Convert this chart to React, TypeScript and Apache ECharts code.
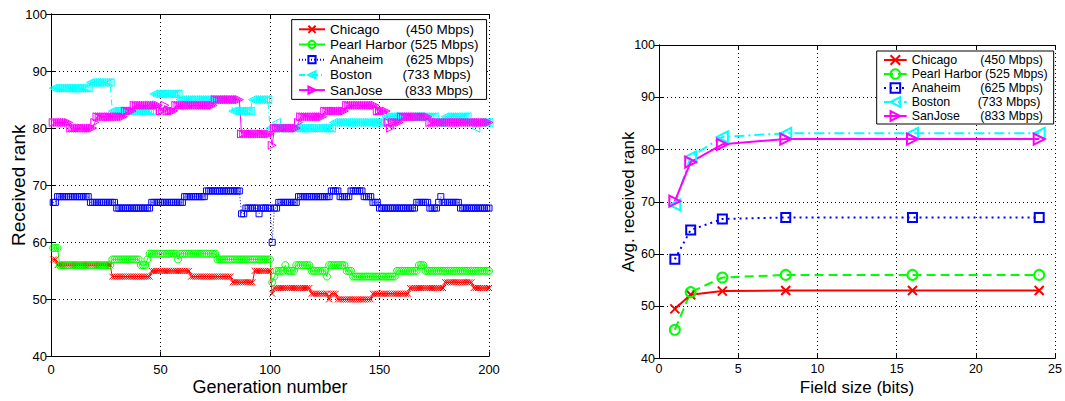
import React, { useEffect, useRef } from 'react';
import * as echarts from 'echarts';

// ---------- shared legend texts ----------
const cityNames = ['Chicago', 'Pearl Harbor', 'Anaheim', 'Boston', 'SanJose'];
const cityRates = ['(450 Mbps)', '(525 Mbps)', '(625 Mbps)', '(733 Mbps)', '(833 Mbps)'];
const cityColors = ['#ff0000', '#00ff00', '#0000ff', '#00ffff', '#ff00ff'];

// ---------- left panel: received rank per generation ----------
// runs of [rank, last generation of the run], generations 1..200
const chicagoRuns = [[57, 2], [56, 27], [54, 45], [55, 63], [54, 82], [53, 92], [55, 100], [51, 101], [52, 118], [51, 126], [50, 127], [51, 130], [50, 146], [51, 163], [52, 179], [53, 192], [52, 200]];
const pearlRuns = [[59, 3], [56, 27], [57, 40], [56, 43], [57, 44], [58, 57], [57, 58], [58, 75], [57, 100], [53, 101], [54, 102], [55, 106], [56, 107], [55, 111], [56, 118], [55, 125], [54, 126], [56, 134], [55, 137], [54, 157], [55, 167], [56, 170], [55, 200]];
const anaheimRuns = [[67, 2], [68, 17], [67, 29], [66, 45], [67, 60], [68, 70], [69, 86], [65, 88], [66, 94], [65, 95], [66, 100], [60, 101], [66, 103], [67, 112], [68, 127], [69, 131], [68, 136], [69, 142], [68, 146], [67, 149], [66, 166], [67, 172], [66, 176], [67, 177], [68, 178], [67, 186], [66, 200]];
const bostonRuns = [[87, 17], [88, 27], [83, 46], [86, 58], [85, 82], [83, 91], [85, 99], [80, 102], [81, 103], [80, 128], [81, 152], [82, 175], [81, 179], [82, 190], [81, 193], [80, 194], [81, 200]];
const sanjoseRuns = [[81, 8], [80, 19], [81, 20], [82, 33], [83, 37], [84, 49], [83, 51], [84, 52], [83, 56], [84, 74], [85, 86], [79, 100], [77, 101], [80, 112], [81, 113], [82, 124], [83, 134], [84, 148], [83, 153], [81, 154], [80, 155], [81, 159], [82, 172], [81, 200]];

// ---------- right panel: average received rank per field size ----------
const fieldSizes = [1, 2, 4, 8, 16, 24];
const chicagoAvg = [49.5, 52.2, 52.9, 53.0, 53.0, 53.0];
const pearlAvg = [45.5, 52.7, 55.5, 56.0, 56.0, 56.0];
const anaheimAvg = [59.0, 64.6, 66.7, 67.0, 67.0, 67.0];
const bostonAvg = [69.4, 78.6, 82.4, 83.1, 83.1, 83.1];
const sanjoseAvg = [70.1, 77.6, 81.0, 82.0, 82.0, 82.0];

const FONT = '"Liberation Sans", Arial, Helvetica, sans-serif';
const X_SYMBOL = 'path://M0,0L10,10M10,0L0,10';
const symbols = [X_SYMBOL, 'circle', 'rect', 'triangle', 'triangle'];
const rotations = [0, 0, 0, 90, -90];

function runsToPoints(runs: number[][]): number[][] {
  const out: number[][] = [];
  let g = 1;
  for (const [v, last] of runs) {
    for (; g <= last; g++) out.push([g, v]);
  }
  return out;
}

function frameAxes(gridIndex: number, min: number, max: number, interval: number, isX: boolean) {
  return {
    type: 'value', gridIndex, min, max, interval,
    position: isX ? 'top' : 'right',
    axisLine: { show: true, lineStyle: { color: '#000', width: 1 } },
    axisTick: { show: true, inside: true, length: 5, lineStyle: { color: '#000' } },
    axisLabel: { show: false },
    splitLine: { show: false },
  };
}

export default function App() {
  const ref = useRef<HTMLDivElement>(null);

  useEffect(() => {
    if (!ref.current) return;
    const chart = echarts.init(ref.current, null, { renderer: 'svg' });

    const leftData = [chicagoRuns, pearlRuns, anaheimRuns, bostonRuns, sanjoseRuns].map(runsToPoints);
    const rightData = [chicagoAvg, pearlAvg, anaheimAvg, bostonAvg, sanjoseAvg].map((arr) => arr.map((v, i) => [fieldSizes[i], v]));

    const leftSizes = [6, 7, 6, 8, 8];
    const leftDash: any[] = ['solid', 'solid', [1, 2], [6, 3, 1, 3], 'solid'];
    const rightSizes = [9, 10, 9, 11, 11];
    const rightDash: any[] = ['solid', [9, 5], [2, 4], [10, 4, 2, 4], 'solid'];

    const leftSeries = leftData.map((d, i) => ({
      type: 'line', name: cityNames[i], xAxisIndex: 0, yAxisIndex: 0, data: d,
      symbol: symbols[i], symbolSize: leftSizes[i], symbolRotate: rotations[i], showAllSymbol: true,
      lineStyle: { color: cityColors[i], width: 1, type: leftDash[i] },
      itemStyle: { color: 'rgba(0,0,0,0)', borderColor: cityColors[i], borderWidth: 1 },
      emphasis: { disabled: true }, silent: true,
    }));
    const rightSeries = rightData.map((d, i) => ({
      type: 'line', name: cityNames[i] + '#r', xAxisIndex: 2, yAxisIndex: 2, data: d,
      symbol: symbols[i], symbolSize: rightSizes[i], symbolRotate: rotations[i], showAllSymbol: true,
      lineStyle: { color: cityColors[i], width: 2, type: rightDash[i] },
      itemStyle: { color: 'rgba(0,0,0,0)', borderColor: cityColors[i], borderWidth: 2 },
      emphasis: { disabled: true }, silent: true,
    }));

    const leftNameWidths = [75.7, 80.3, 75.7, 72.4, 74.7];
    const rightNameWidths = [68.6, 73.3, 68.6, 66, 68.6];
    const leftRich: any = { p: { fontFamily: FONT, fontSize: 13.5, lineHeight: 15.2, color: '#000' } };
    const rightRich: any = { p: { fontFamily: FONT, fontSize: 12.4, lineHeight: 14, color: '#000' } };
    cityNames.forEach((_, i) => {
      leftRich['n' + i] = { fontFamily: FONT, fontSize: 13.5, lineHeight: 15.2, color: '#000', width: leftNameWidths[i] };
      rightRich['n' + i] = { fontFamily: FONT, fontSize: 12.4, lineHeight: 14, color: '#000', width: rightNameWidths[i] };
    });
    const fmt = (name: string) => {
      const base = name.split('#')[0];
      const i = cityNames.indexOf(base);
      return `{n${i}|${base}}{p|${cityRates[i]}}`;
    };

    const tickLabel = (size: number, margin: number) => ({ show: true, color: '#000', fontFamily: FONT, fontSize: size, margin });
    const gridLine = { show: true, lineStyle: { color: '#000', width: 1, type: [1, 3] } };
    const mainLine = { show: true, lineStyle: { color: '#000', width: 1 } };
    const mainTick = { show: true, inside: true, length: 5, lineStyle: { color: '#000' } };

    const option: any = {
      animation: false,
      backgroundColor: '#fff',
      grid: [
        { left: 51, top: 14, width: 438, height: 344, containLabel: false },
        { left: 659, top: 45, width: 399, height: 316, containLabel: false },
      ],
      xAxis: [
        {
          type: 'value', gridIndex: 0, min: 0, max: 200, interval: 50, position: 'bottom',
          name: 'Generation number', nameLocation: 'middle', nameGap: 21.5, nameMoveOverlap: false,
          nameTextStyle: { fontFamily: FONT, fontSize: 18, color: '#000' },
          axisLine: mainLine, axisTick: mainTick, axisLabel: tickLabel(13, 6), splitLine: gridLine,
        },
        frameAxes(0, 0, 200, 50, true),
        {
          type: 'value', gridIndex: 1, min: 0, max: 25, interval: 5, position: 'bottom',
          name: 'Field size (bits)', nameLocation: 'middle', nameGap: 20.5, nameMoveOverlap: false,
          nameTextStyle: { fontFamily: FONT, fontSize: 17, color: '#000' },
          axisLine: mainLine, axisTick: mainTick, axisLabel: tickLabel(12.5, 4), splitLine: gridLine,
        },
        frameAxes(1, 0, 25, 5, true),
      ],
      yAxis: [
        {
          type: 'value', gridIndex: 0, min: 40, max: 100, interval: 10, position: 'left',
          name: 'Received rank', nameLocation: 'middle', nameGap: 23, nameMoveOverlap: false,
          nameTextStyle: { fontFamily: FONT, fontSize: 19, color: '#000' },
          axisLine: mainLine, axisTick: mainTick, axisLabel: tickLabel(13, 4), splitLine: gridLine,
        },
        frameAxes(0, 40, 100, 10, false),
        {
          type: 'value', gridIndex: 1, min: 40, max: 100, interval: 10, position: 'left',
          name: 'Avg. received rank', nameLocation: 'middle', nameGap: 22, nameMoveOverlap: false,
          nameTextStyle: { fontFamily: FONT, fontSize: 17, color: '#000' },
          axisLine: mainLine, axisTick: mainTick, axisLabel: tickLabel(12.5, 4), splitLine: gridLine,
        },
        frameAxes(1, 40, 100, 10, false),
      ],
      legend: [
        {
          data: cityNames, orient: 'vertical', left: 291.7, top: 19.6,
          padding: [2.1, 8, 1.7, 6.3], itemGap: 0, itemWidth: 26, itemHeight: 9,
          backgroundColor: '#fff', borderColor: '#000', borderWidth: 1,
          selectedMode: false, formatter: fmt,
          textStyle: { fontFamily: FONT, fontSize: 13.5, lineHeight: 15.2, color: '#000', rich: leftRich },
        },
        {
          data: cityNames.map((n) => n + '#r'), orient: 'vertical', left: 876.7, top: 51,
          padding: [2, 6, 1, 6.3], itemGap: 0, itemWidth: 22.7, itemHeight: 12,
          backgroundColor: '#fff', borderColor: '#000', borderWidth: 1,
          selectedMode: false, formatter: fmt,
          textStyle: { fontFamily: FONT, fontSize: 12.4, lineHeight: 14, color: '#000', rich: rightRich },
        },
      ],
      series: [...leftSeries, ...rightSeries],
    };

    chart.setOption(option);
    return () => chart.dispose();
  }, []);

  return (
    <div
      ref={ref}
      style={{ position: 'absolute', left: 0, top: 0, width: 1065, height: 401, background: '#fff' }}
    />
  );
}
